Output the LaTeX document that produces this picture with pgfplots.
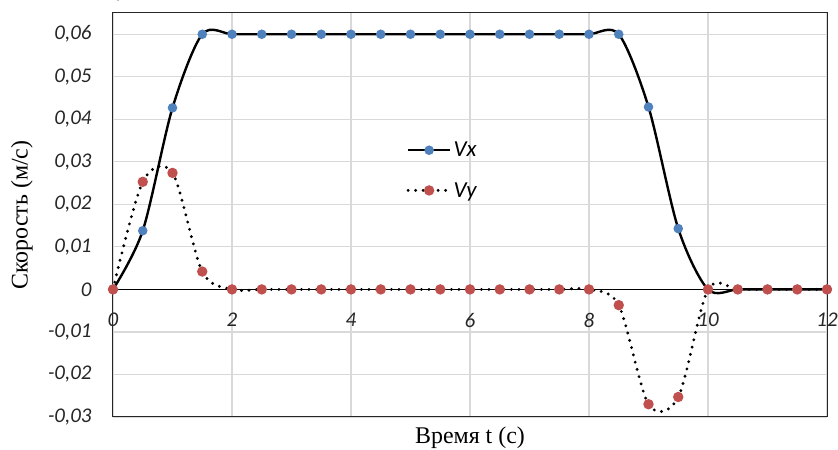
\documentclass[border=0pt]{standalone}
\usepackage{fontspec}
\setmainfont{Liberation Serif}
\newfontfamily\calibri{Carlito}
\usepackage{pgfplots}
\usepackage{pgfplotstable}
\pgfplotsset{compat=1.18}
\definecolor{vxblue}{RGB}{79,129,189}
\definecolor{vyred}{RGB}{192,80,77}
\definecolor{gridgray}{RGB}{217,217,217}

\pgfplotstableread{
t    vx      vy
0    0       0
0.5  0.0138  0.0253
1    0.0427  0.0274
1.5  0.0600  0.0042
2    0.0600  0
2.5  0.0600  0
3    0.0600  0
3.5  0.0600  0
4    0.0600  0
4.5  0.0600  0
5    0.0600  0
5.5  0.0600  0
6    0.0600  0
6.5  0.0600  0
7    0.0600  0
7.5  0.0600  0
8    0.0600  0
8.5  0.0600  -0.0037
9    0.0429  -0.0270
9.5  0.0143  -0.0253
10   0       0
10.5 0       0
11   0       0
11.5 0       0
12   0       0
}\speed

\begin{document}
\begin{tikzpicture}
\begin{axis}[
  scale only axis, width=714bp, height=404bp,
  xmin=0, xmax=12, ymin=-0.03, ymax=0.065,
  xtick={0,2,4,6,8,10,12}, xticklabels={0,2,4,6,8,10,12},
  ytick={-0.03,-0.02,-0.01,0,0.01,0.02,0.03,0.04,0.05,0.06},
  yticklabels={{-0,03},{-0,02},{-0,01},0,{0,01},{0,02},{0,03},{0,04},{0,05},{0,06}},
  major tick length=0,
  grid=major, grid style={gridgray, line width=1.2bp},
  axis line style={black!85, line width=1bp},
  tick label style={font=\fontsize{21}{25}\selectfont\calibri\itshape, color=black!85},
  x tick label style={yshift=107.5bp},
  y tick label style={xshift=-18bp},
  xlabel={Время t (с)}, ylabel={Скорость (м/с)},
  label style={font=\fontsize{24}{28}\selectfont},
  xlabel style={at={(axis description cs:0.5,0)}, anchor=north, yshift=-6bp},
  ylabel style={at={(axis description cs:0,0.5)}, anchor=center, yshift=91bp},
  legend style={at={(axis cs:4.93,0.028)}, anchor=west, draw=none, fill=none,
                font=\fontsize{23}{27}\selectfont\calibri\itshape,
                row sep=20bp, legend cell align=left, inner sep=0pt},
  legend image code/.code={\draw[mark repeat=2,mark phase=2,#1]
      plot coordinates {(0bp,0bp) (21bp,0bp) (42bp,0bp)};},
]
\addplot[black, line width=1bp, forget plot] coordinates {(0,0) (12,0)};
\addplot[black, line width=2.4bp, smooth, tension=0.5,
         mark=*, mark size=3.5bp, mark options={fill=vxblue, draw=vxblue}]
  table[x=t, y=vx] {\speed};
\addlegendentry{Vx}
\addplot[black, line width=3.2bp, line cap=round, dash pattern=on 0pt off 7.5bp,
         smooth, tension=0.5,
         mark=*, mark size=3.5bp, mark options={solid, fill=vyred, draw=vyred}]
  table[x=t, y=vy] {\speed};
\addlegendentry{Vy}
\coordinate (sw) at (rel axis cs:0,0);
\coordinate (ne) at (rel axis cs:1,1);
\end{axis}
\pgfresetboundingbox
\path ([shift={(-113bp,-33bp)}]sw) rectangle ([shift={(11bp,13bp)}]ne);
\end{tikzpicture}
\end{document}
